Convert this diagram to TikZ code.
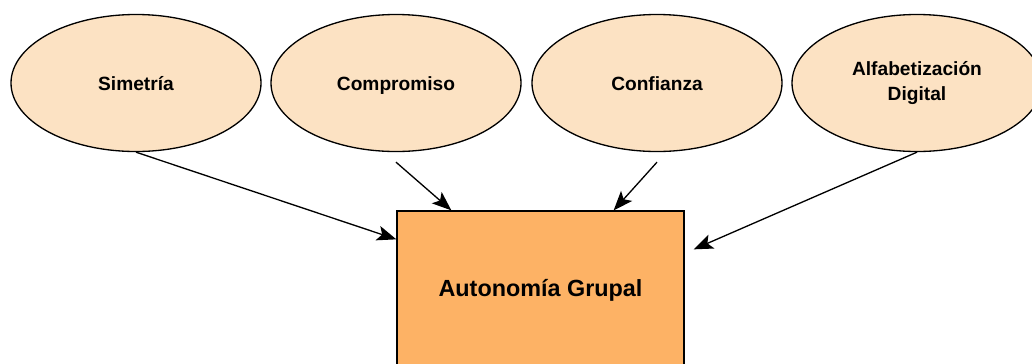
\documentclass[tikz,border=0pt]{standalone}
\usepackage{fontspec}
\setmainfont{Liberation Sans}
\usepackage{tikz}
\usetikzlibrary{arrows.meta}
\usetikzlibrary{shapes.geometric}
\usetikzlibrary{positioning}
\definecolor{peach}{HTML}{FCE2C3}
\definecolor{apricot}{HTML}{FDB265}
\newcommand{\labelstrut}{\rule[-2.5pt]{0pt}{13pt}}

\begin{document}
\begin{tikzpicture}
	[
	> = {Stealth[length=11pt,width=8.5pt,inset=2.5pt]},
	factor/.style = {draw,ellipse,fill=peach,line width=0.75pt,minimum width=5cm,minimum height=2.74cm,inner sep=0pt,align=center,font=\fontsize{10.9}{14.4}\selectfont\bfseries,
		execute at begin node=\labelstrut,execute at end node=\labelstrut},
	result/.style = {draw,rectangle,fill=apricot,line width=0.75pt,minimum width=5.74cm,minimum height=3.16cm,font=\fontsize{13.3}{16}\selectfont\bfseries},
	link/.style = {->,line width=0.75pt}
	]

	\useasboundingbox (0,0) rectangle (20.64,7.26);

	\node[factor] (sim) at (2.72,5.6) {Simetría};
	\node[factor] (comp) at (7.92,5.6) {Compromiso};
	\node[factor] (conf) at (13.14,5.6) {Confianza};
	\node[factor] (alf) at (18.34,5.6) {Alfabetización\\Digital};

	\node[result] (auto) at (10.81,1.46) {Autonomía Grupal};

	\draw[link] (sim.south) -- ([yshift=-0.58cm]auto.north west);
	\draw[link] ([yshift=-0.2cm]comp.south) -- ([xshift=1.1cm]auto.north west);
	\draw[link] ([yshift=-0.2cm]conf.south) -- ([xshift=-1.42cm]auto.north east);
	\draw[link] (alf.south) -- ([shift={(0.18,-0.78)}]auto.north east);

\end{tikzpicture}
\end{document}
